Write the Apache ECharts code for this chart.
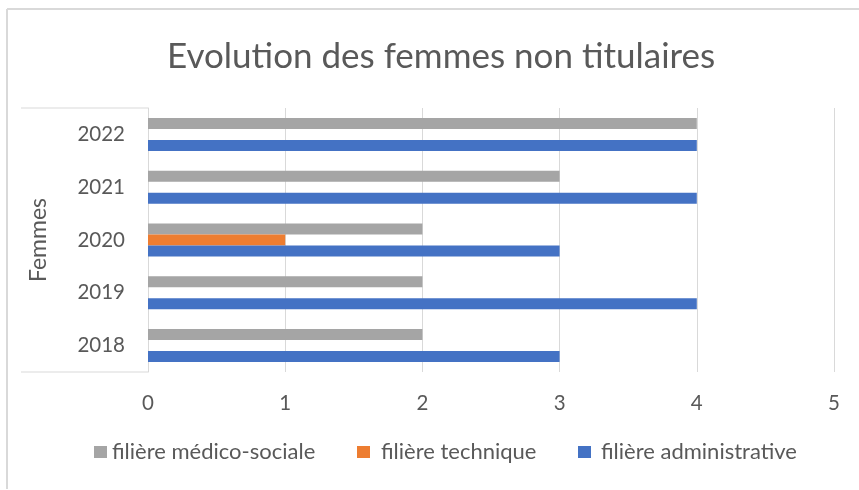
<!DOCTYPE html>
<html>
<head>
<meta charset="utf-8">
<script src="https://cdn.jsdelivr.net/npm/echarts@6/dist/echarts.min.js"></script>
<style>
  html, body { margin: 0; padding: 0; background: #fff; }
  #chart { width: 859px; height: 490px; }
</style>
</head>
<body>
<div id="chart"></div>
<script>
// années (de bas en haut)
const years = ['2018', '2019', '2020', '2021', '2022']
const medicoSociale = [2, 2, 2, 3, 4]
const technique = [0, 0, 1, 0, 0]
const administrative = [3, 4, 3, 4, 4]
const xTicks = [0, 5, 1] // min, max, interval
const seriesNames = ['filière médico-sociale', 'filière technique', 'filière administrative']

const textColor = '#595959'
const lineColor = '#d9d9d9'
const font = 'Lato, "Open Sans", sans-serif'

const chart = echarts.init(document.getElementById('chart'))

const makeSeries = (name, data, color) => ({
  name,
  type: 'bar',
  data,
  barWidth: 11,
  barGap: '0%',
  itemStyle: { color },
})

// une légende par entrée pour caler les positions comme dans Excel
const makeLegend = (name, left, pad) => ({
  bottom: 22,
  left,
  itemWidth: 13,
  itemHeight: 12,
  icon: 'rect',
  textStyle: { fontSize: 22, color: textColor, fontFamily: font, padding: [0, 0, 0, pad] },
  data: [name],
})

const option = {
  textStyle: { fontFamily: font },
  title: {
    text: 'Evolution des femmes non titulaires',
    left: 162,
    top: 34,
    textStyle: { fontSize: 35, fontWeight: 'normal', color: textColor, fontFamily: font },
  },
  legend: [
    makeLegend(seriesNames[0], 89, 0),
    makeLegend(seriesNames[1], 352, 6),
    makeLegend(seriesNames[2], 573, 5),
  ],
  grid: { left: 148, right: 25, top: 108, bottom: 118 },
  xAxis: {
    type: 'value',
    min: xTicks[0],
    max: xTicks[1],
    interval: xTicks[2],
    axisLine: { show: false },
    axisTick: { show: false },
    splitLine: { lineStyle: { color: lineColor, width: 1 } },
    axisLabel: { fontSize: 20.5, color: textColor, margin: 21, fontFamily: font },
  },
  yAxis: {
    type: 'category',
    data: years,
    name: 'Femmes',
    nameLocation: 'middle',
    nameRotate: 90,
    nameGap: 98,
    nameTextStyle: { fontSize: 23, color: textColor, fontFamily: font },
    axisLine: { lineStyle: { color: lineColor } },
    axisTick: { show: false },
    axisLabel: { fontSize: 20.5, color: textColor, margin: 23, fontFamily: font },
  },
  graphic: [
    // cadre extérieur
    { type: 'line', shape: { x1: 7, y1: 9, x2: 859, y2: 9 }, style: { stroke: lineColor, lineWidth: 2 } },
    { type: 'line', shape: { x1: 7, y1: 9, x2: 7, y2: 489 }, style: { stroke: lineColor, lineWidth: 2 } },
    // lignes du groupe "Femmes"
    { type: 'line', shape: { x1: 21, y1: 108, x2: 148, y2: 108 }, style: { stroke: lineColor, lineWidth: 1 } },
    { type: 'line', shape: { x1: 21, y1: 372, x2: 148, y2: 372 }, style: { stroke: lineColor, lineWidth: 1 } },
  ],
  series: [
    makeSeries(seriesNames[0], medicoSociale, '#a5a5a5'),
    makeSeries(seriesNames[1], technique, '#ed7d31'),
    makeSeries(seriesNames[2], administrative, '#4472c4'),
  ],
}

chart.setOption(option)
</script>
</body>
</html>
